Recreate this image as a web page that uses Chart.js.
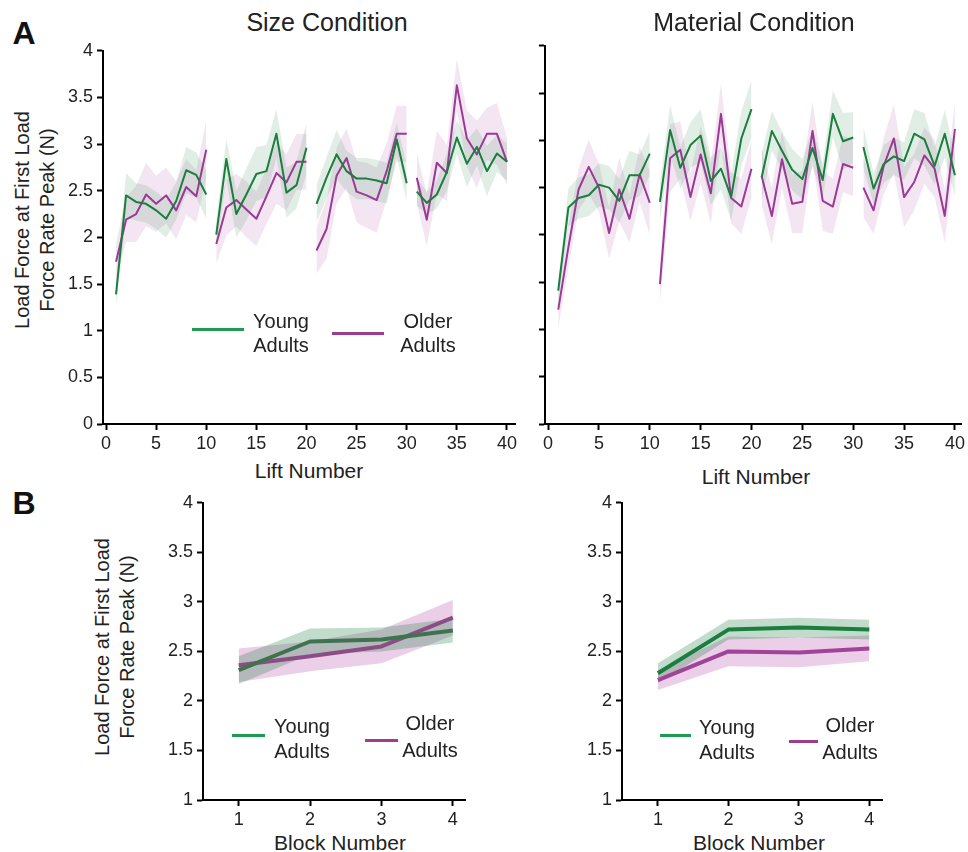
<!DOCTYPE html>
<html><head><meta charset="utf-8">
<script src="https://cdn.jsdelivr.net/npm/chart.js@4.4.1/dist/chart.umd.min.js"></script>
<style>
body{margin:0;background:#fff;width:968px;height:852px;position:relative;overflow:hidden;font-family:"Liberation Sans",Arial,sans-serif;color:#222}
canvas{position:absolute}
.t{position:absolute;white-space:nowrap;transform:translate(-50%,-50%);line-height:1}
.ttl{font-size:25px}
.pl{font-size:32px;font-weight:bold;color:#111}
.ax{font-size:21px}
.yt{position:absolute;white-space:nowrap;font-size:20px;line-height:25px;text-align:center;transform:translate(-50%,-50%) rotate(-90deg)}
.lg{font-size:20px}
.ln{position:absolute;height:3px}
</style></head>
<body>
<canvas id="c1" width="465" height="414" style="left:60px;top:36px"></canvas>
<canvas id="c2" width="448" height="419" style="left:520px;top:31px"></canvas>
<canvas id="c3" width="325" height="338" style="left:150px;top:488px"></canvas>
<canvas id="c4" width="322" height="338" style="left:570px;top:488px"></canvas>

<div class="t pl" style="left:24px;top:33px">A</div>
<div class="t pl" style="left:24px;top:503px">B</div>
<div class="t ttl" style="left:327px;top:22px">Size Condition</div>
<div class="t ttl" style="left:754px;top:22px">Material Condition</div>
<div class="t ax" style="left:309px;top:470px">Lift Number</div>
<div class="t ax" style="left:756px;top:476px">Lift Number</div>
<div class="t ax" style="left:340px;top:842px">Block Number</div>
<div class="t ax" style="left:759px;top:842px">Block Number</div>
<div class="yt" style="left:35px;top:220px">Load Force at First Load<br>Force Rate Peak (N)</div>
<div class="yt" style="left:115px;top:647px">Load Force at First Load<br>Force Rate Peak (N)</div>

<div class="ln" style="left:192px;top:328px;width:52px;background:#1f9a52"></div>
<div class="t lg" style="left:281px;top:321px">Young</div>
<div class="t lg" style="left:281px;top:345px">Adults</div>
<div class="ln" style="left:332px;top:332px;width:52px;background:#9c3d90"></div>
<div class="t lg" style="left:428px;top:321px">Older</div>
<div class="t lg" style="left:428px;top:345px">Adults</div>

<div class="ln" style="left:232px;top:734px;width:33px;background:#1f9a52"></div>
<div class="t lg" style="left:302px;top:726px">Young</div>
<div class="t lg" style="left:302px;top:751px">Adults</div>
<div class="ln" style="left:365px;top:739px;width:33px;background:#9c3d90"></div>
<div class="t lg" style="left:430px;top:723px">Older</div>
<div class="t lg" style="left:430px;top:750px">Adults</div>

<div class="ln" style="left:660px;top:734px;width:31px;background:#1f9a52"></div>
<div class="t lg" style="left:727px;top:727px">Young</div>
<div class="t lg" style="left:727px;top:752px">Adults</div>
<div class="ln" style="left:789px;top:740px;width:29px;background:#9c3d90"></div>
<div class="t lg" style="left:850px;top:725px">Older</div>
<div class="t lg" style="left:850px;top:752px">Adults</div>

<script>
// ---- data ----
const lifts = [1,2,3,4,5,6,7,8,9,10,11,12,13,14,15,16,17,18,19,20,21,22,23,24,25,26,27,28,29,30,31,32,33,34,35,36,37,38,39,40];
const liftTicks = [0,5,10,15,20,25,30,35,40];
const forceTicks = [0,0.5,1,1.5,2,2.5,3,3.5,4];
const blocks = [1,2,3,4];
const blockForceTicks = [1,1.5,2,2.5,3,3.5,4];
const liftsPerBlock = 10;

const sizeYoung = [1.39,2.45,2.38,2.36,2.29,2.20,2.39,2.72,2.67,2.46, 2.03,2.84,2.25,2.46,2.68,2.71,3.11,2.48,2.56,2.96, 2.36,2.64,2.89,2.71,2.63,2.63,2.61,2.58,3.05,2.58, 2.49,2.37,2.46,2.70,3.07,2.79,2.97,2.71,2.90,2.81];
const sizeYoungErr = [0.12,0.24,0.20,0.20,0.20,0.20,0.20,0.25,0.24,0.26, 0.15,0.22,0.25,0.28,0.29,0.28,0.26,0.27,0.25,0.27, 0.20,0.22,0.26,0.22,0.22,0.22,0.22,0.22,0.18,0.20, 0.15,0.12,0.15,0.20,0.18,0.25,0.20,0.27,0.20,0.20];
const sizeOlder = [1.74,2.19,2.25,2.46,2.36,2.45,2.29,2.54,2.44,2.94, 1.93,2.32,2.40,2.30,2.20,2.44,2.69,2.59,2.81,2.81, 1.86,2.09,2.66,2.85,2.49,2.45,2.40,2.71,3.11,3.11, 2.64,2.19,2.80,2.69,3.63,3.06,2.89,3.11,3.11,2.81];
const sizeOlderErr = [0.20,0.24,0.30,0.34,0.30,0.30,0.31,0.30,0.28,0.31, 0.21,0.30,0.28,0.30,0.29,0.30,0.33,0.30,0.30,0.30, 0.25,0.32,0.30,0.32,0.33,0.35,0.35,0.30,0.30,0.30, 0.27,0.28,0.34,0.30,0.28,0.30,0.36,0.28,0.33,0.25];

const materialYoung = [1.41,2.29,2.39,2.42,2.53,2.50,2.36,2.63,2.63,2.86, 2.35,3.11,2.71,2.95,3.05,2.57,2.70,2.40,3.02,3.33, 2.61,3.10,2.89,2.69,2.59,2.92,2.58,3.28,2.99,3.03, 2.93,2.49,2.75,2.83,2.78,3.07,3.01,2.73,3.07,2.63];
const materialYoungErr = [0.10,0.20,0.22,0.22,0.23,0.23,0.23,0.26,0.22,0.23, 0.20,0.26,0.22,0.24,0.28,0.25,0.22,0.25,0.29,0.30, 0.25,0.21,0.20,0.22,0.21,0.20,0.18,0.25,0.30,0.27, 0.22,0.16,0.20,0.20,0.20,0.26,0.28,0.20,0.25,0.22];
const materialOlder = [1.21,1.87,2.48,2.72,2.50,2.02,2.48,2.17,2.64,2.34, 1.48,2.81,2.90,2.40,2.85,2.44,3.28,2.39,2.30,2.70, 2.62,2.20,2.80,2.33,2.35,3.10,2.36,2.30,2.75,2.71, 2.50,2.26,2.73,3.02,2.40,2.56,2.84,2.70,2.20,3.12];
const materialOlderErr = [0.20,0.22,0.22,0.29,0.25,0.27,0.34,0.25,0.29,0.34, 0.20,0.36,0.30,0.25,0.30,0.32,0.32,0.27,0.29,0.30, 0.30,0.30,0.30,0.31,0.33,0.31,0.32,0.29,0.30,0.30, 0.31,0.25,0.30,0.36,0.32,0.30,0.30,0.30,0.28,0.28];

const blockSizeYoung = [2.31,2.60,2.62,2.71];
const blockSizeYoungErr = [0.14,0.13,0.12,0.12];
const blockSizeOlder = [2.36,2.45,2.55,2.84];
const blockSizeOlderErr = [0.17,0.15,0.17,0.18];
const blockMaterialYoung = [2.28,2.72,2.74,2.72];
const blockMaterialYoungErr = [0.10,0.10,0.10,0.10];
const blockMaterialOlder = [2.21,2.50,2.49,2.53];
const blockMaterialOlderErr = [0.10,0.15,0.15,0.13];

// ---- styles ----
const GREEN = '#1b7d3e', PURPLE = '#9b3a96';

function seriesDatasets(xs, mean, err, groupSize, line, band, lw) {
  const out = [];
  for (let s = 0; s < xs.length; s += groupSize) {
    const idx = [];
    for (let i = s; i < Math.min(s + groupSize, xs.length); i++) idx.push(i);
    out.push({data: idx.map(i => ({x: xs[i], y: mean[i] - err[i]})), borderWidth: 0, borderColor: 'rgba(0,0,0,0)', pointRadius: 0, fill: false, order: 2});
    out.push({data: idx.map(i => ({x: xs[i], y: mean[i] + err[i]})), borderWidth: 0, borderColor: 'rgba(0,0,0,0)', pointRadius: 0, fill: '-1', backgroundColor: band, order: 2});
    out.push({data: idx.map(i => ({x: xs[i], y: mean[i]})), borderColor: line, borderWidth: lw, pointRadius: 0, fill: false, order: 1, borderJoinStyle: 'round', borderCapStyle: 'butt'});
  }
  return out;
}

function scaleOpts(min, max, ticks, size, isX, showLabels) {
  const o = {
    type: 'linear', min: min, max: max,
    afterBuildTicks: s => { s.ticks = ticks.map(v => ({value: v})); },
    grid: {display: true, drawOnChartArea: false, drawTicks: true, tickLength: 6, tickWidth: 2, tickColor: '#000'},
    border: {display: true, color: '#000', width: 2},
    ticks: {autoSkip: false, maxRotation: 0, padding: isX ? 3 : 4, color: '#222', font: {size: 18},
      callback: v => showLabels ? String(v) : ''}
  };
  if (isX) o.afterFit = s => { s.height = size; };
  else o.afterFit = s => { s.width = size; };
  return o;
}

function makePanel(id, datasets, xMin, xMax, xTicks, yMin, yMax, yTicks, yW, padTop, padRight, yLabels) {
  new Chart(document.getElementById(id), {
    type: 'line',
    data: {datasets: datasets},
    options: {
      responsive: false, animation: false, events: [],
      layout: {padding: {top: padTop, right: padRight, left: 0, bottom: 0}},
      plugins: {legend: {display: false}, tooltip: {enabled: false}},
      scales: {
        x: scaleOpts(xMin, xMax, xTicks, 26, true, true),
        y: scaleOpts(yMin, yMax, yTicks, yW, false, yLabels)
      }
    }
  });
}

Chart.defaults.font.family = '"Liberation Sans", Arial, sans-serif';
Chart.defaults.color = '#222';

const topBandG = 'rgba(27,120,55,0.13)', topBandP = 'rgba(160,50,150,0.12)';
makePanel('c1',
  seriesDatasets(lifts, sizeYoung, sizeYoungErr, liftsPerBlock, GREEN, topBandG, 2)
    .concat(seriesDatasets(lifts, sizeOlder, sizeOlderErr, liftsPerBlock, PURPLE, topBandP, 2)),
  -0.3, 40.8, liftTicks, 0, 4, forceTicks, 43, 14, 10, true);
makePanel('c2',
  seriesDatasets(lifts, materialYoung, materialYoungErr, liftsPerBlock, GREEN, topBandG, 2)
    .concat(seriesDatasets(lifts, materialOlder, materialOlderErr, liftsPerBlock, PURPLE, topBandP, 2)),
  -0.3, 40.6, liftTicks, 0, 4, forceTicks, 25, 14, 4, false);

const botBandG = 'rgba(27,125,62,0.27)', botBandP = 'rgba(175,60,160,0.25)';
makePanel('c3',
  seriesDatasets(blocks, blockSizeYoung, blockSizeYoungErr, blocks.length, '#3f7350', botBandG, 4)
    .concat(seriesDatasets(blocks, blockSizeOlder, blockSizeOlderErr, blocks.length, '#8c4d86', botBandP, 4)),
  0.5, 4.17, blocks, 1, 4, blockForceTicks, 53, 14, 10, true);
makePanel('c4',
  seriesDatasets(blocks, blockMaterialYoung, blockMaterialYoungErr, blocks.length, GREEN, botBandG, 4)
    .concat(seriesDatasets(blocks, blockMaterialOlder, blockMaterialOlderErr, blocks.length, '#a0449a', botBandP, 4)),
  0.49, 4.18, blocks, 1, 4, blockForceTicks, 52, 14, 10, true);
</script>
</body></html>
